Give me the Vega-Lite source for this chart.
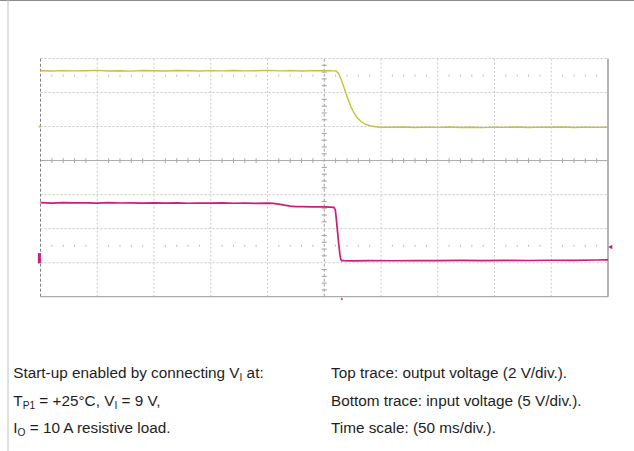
{
  "$schema": "https://vega.github.io/schema/vega-lite/v6.json",
  "width": 634,
  "height": 451,
  "padding": 0,
  "autosize": {"type": "none"},
  "background": "white",
  "config": {"view": {"stroke": null}},
  "datasets": {
    "vgrid": [{"x": 1}, {"x": 2}, {"x": 3}, {"x": 4}, {"x": 6}, {"x": 7}, {"x": 8}, {"x": 9}],
    "hgrid": [{"y": 1}, {"y": 2}, {"y": 3}, {"y": 5}, {"y": 6}, {"y": 7}],
    "xt": [{"x":0.2},{"x":0.4},{"x":0.6},{"x":0.8},{"x":1.2},{"x":1.4},{"x":1.6},{"x":1.8},{"x":2.2},{"x":2.4},{"x":2.6},{"x":2.8},{"x":3.2},{"x":3.4},{"x":3.6},{"x":3.8},{"x":4.2},{"x":4.4},{"x":4.6},{"x":4.8},{"x":5.2},{"x":5.4},{"x":5.6},{"x":5.8},{"x":6.2},{"x":6.4},{"x":6.6},{"x":6.8},{"x":7.2},{"x":7.4},{"x":7.6},{"x":7.8},{"x":8.2},{"x":8.4},{"x":8.6},{"x":8.8},{"x":9.2},{"x":9.4},{"x":9.6},{"x":9.8}],
    "yt": [{"y":0.2},{"y":0.4},{"y":0.6},{"y":0.8},{"y":1.2},{"y":1.4},{"y":1.6},{"y":1.8},{"y":2.2},{"y":2.4},{"y":2.6},{"y":2.8},{"y":3.2},{"y":3.4},{"y":3.6},{"y":3.8},{"y":4.2},{"y":4.4},{"y":4.6},{"y":4.8},{"y":5.2},{"y":5.4},{"y":5.6},{"y":5.8},{"y":6.2},{"y":6.4},{"y":6.6},{"y":6.8}],
    "yellow": [
      {"t":0,"v":6.640},{"t":0.2,"v":6.632},{"t":0.4,"v":6.645},{"t":0.6,"v":6.636},{"t":0.8,"v":6.642},{"t":1.0,"v":6.650},{"t":1.2,"v":6.634},{"t":1.4,"v":6.641},{"t":1.6,"v":6.630},{"t":1.8,"v":6.646},{"t":2.0,"v":6.638},{"t":2.2,"v":6.633},{"t":2.4,"v":6.647},{"t":2.6,"v":6.640},{"t":2.8,"v":6.631},{"t":3.0,"v":6.644},{"t":3.2,"v":6.637},{"t":3.4,"v":6.648},{"t":3.6,"v":6.635},{"t":3.8,"v":6.642},{"t":4.0,"v":6.652},{"t":4.2,"v":6.636},{"t":4.4,"v":6.643},{"t":4.6,"v":6.632},{"t":4.8,"v":6.645},{"t":5.0,"v":6.639},{"t":5.1,"v":6.641},{"t":5.17,"v":6.636},
      {"t":5.207,"v":6.632},{"t":5.251,"v":6.559},{"t":5.295,"v":6.397},{"t":5.339,"v":6.192},{"t":5.383,"v":5.971},{"t":5.427,"v":5.766},{"t":5.471,"v":5.574},{"t":5.524,"v":5.398},{"t":5.577,"v":5.266},{"t":5.648,"v":5.148},{"t":5.736,"v":5.060},{"t":5.841,"v":5.007},{"t":5.982,"v":4.981},
      {"t":6.2,"v":4.978},{"t":6.4,"v":4.985},{"t":6.6,"v":4.972},{"t":6.8,"v":4.983},{"t":7.0,"v":4.976},{"t":7.2,"v":4.988},{"t":7.4,"v":4.974},{"t":7.6,"v":4.981},{"t":7.8,"v":4.970},{"t":8.0,"v":4.984},{"t":8.2,"v":4.977},{"t":8.4,"v":4.986},{"t":8.6,"v":4.973},{"t":8.8,"v":4.982},{"t":9.0,"v":4.978},{"t":9.2,"v":4.987},{"t":9.4,"v":4.971},{"t":9.6,"v":4.983},{"t":9.8,"v":4.976},{"t":10.0,"v":4.981}
    ],
    "purple": [
      {"t":0,"v":2.762},{"t":0.2,"v":2.752},{"t":0.4,"v":2.765},{"t":0.6,"v":2.755},{"t":0.8,"v":2.760},{"t":1.0,"v":2.750},{"t":1.2,"v":2.762},{"t":1.4,"v":2.754},{"t":1.6,"v":2.758},{"t":1.8,"v":2.748},{"t":2.0,"v":2.757},{"t":2.2,"v":2.750},{"t":2.4,"v":2.756},{"t":2.6,"v":2.747},{"t":2.8,"v":2.754},{"t":3.0,"v":2.749},{"t":3.2,"v":2.755},{"t":3.4,"v":2.746},{"t":3.6,"v":2.752},{"t":3.8,"v":2.745},{"t":4.0,"v":2.748},{"t":4.1,"v":2.740},{"t":4.2,"v":2.722},{"t":4.3,"v":2.690},{"t":4.4,"v":2.662},{"t":4.5,"v":2.650},{"t":4.6,"v":2.648},{"t":4.8,"v":2.641},{"t":5.0,"v":2.638},{"t":5.1,"v":2.632},{"t":5.17,"v":2.628},
      {"t":5.195,"v":2.55},{"t":5.215,"v":2.25},{"t":5.235,"v":1.90},{"t":5.255,"v":1.55},{"t":5.275,"v":1.25},{"t":5.29,"v":1.10},{"t":5.305,"v":1.062},
      {"t":5.35,"v":1.058},{"t":5.5,"v":1.055},{"t":5.8,"v":1.060},{"t":6.2,"v":1.056},{"t":6.6,"v":1.062},{"t":7.0,"v":1.059},{"t":7.4,"v":1.066},{"t":7.8,"v":1.062},{"t":8.2,"v":1.068},{"t":8.6,"v":1.064},{"t":9.0,"v":1.072},{"t":9.4,"v":1.070},{"t":9.8,"v":1.078},{"t":10.0,"v":1.085}
    ],
    "caption": [
      {"x": -0.4793, "y": -2.401, "text": "Start-up enabled by connecting V"},
      {"x": 3.632, "y": -2.401, "text": "at:"},
      {"x": -0.4793, "y": -3.224, "text": "T"},
      {"x": -0.0199, "y": -3.224, "text": "= +25°C, V"},
      {"x": 1.427, "y": -3.224, "text": "= 9 V,"},
      {"x": -0.4793, "y": -4.017, "text": "I"},
      {"x": -0.1895, "y": -4.017, "text": "= 10 A resistive load."},
      {"x": 5.119, "y": -2.401, "text": "Top trace: output voltage (2 V/div.)."},
      {"x": 5.119, "y": -3.224, "text": "Bottom trace: input voltage (5 V/div.)."},
      {"x": 5.119, "y": -4.017, "text": "Time scale: (50 ms/div.)."}
    ],
    "subs": [
      {"x": 3.507, "y": -2.489, "text": "I"},
      {"x": -0.3145, "y": -3.312, "text": "P1"},
      {"x": 1.302, "y": -3.312, "text": "I"},
      {"x": -0.4044, "y": -4.105, "text": "O"}
    ]
  },
  "layer": [
    {
      "data": {"name": "vgrid"},
      "mark": {"type": "rule", "color": "#c8c8c8", "strokeDash": [2, 2], "strokeWidth": 1},
      "encoding": {
        "x": {"field": "x", "type": "quantitative", "scale": {"domain": [-0.7137, 10.458], "nice": false, "zero": false}, "axis": null},
        "y": {"datum": 0, "scale": {"domain": [-4.534, 8.719], "nice": false, "zero": false}, "axis": null},
        "y2": {"datum": 7}
      }
    },
    {
      "data": {"name": "hgrid"},
      "mark": {"type": "rule", "color": "#c8c8c8", "strokeDash": [2, 2], "strokeWidth": 1},
      "encoding": {
        "y": {"field": "y", "type": "quantitative", "axis": null},
        "x": {"datum": 0},
        "x2": {"datum": 10}
      }
    },
    {
      "data": {"name": "xt"},
      "mark": {"type": "rule", "color": "#c4c4c4", "strokeWidth": 1},
      "encoding": {
        "x": {"field": "x", "type": "quantitative"},
        "y": {"datum": 6.46},
        "y2": {"datum": 6.53}
      }
    },
    {
      "data": {"name": "xt"},
      "mark": {"type": "rule", "color": "#c4c4c4", "strokeWidth": 1},
      "encoding": {
        "x": {"field": "x", "type": "quantitative"},
        "y": {"datum": 1.46},
        "y2": {"datum": 1.53}
      }
    },
    {
      "data": {"values": [{}]},
      "mark": {"type": "rule", "color": "#a8a8a8", "strokeWidth": 1},
      "encoding": {"y": {"datum": 4}, "x": {"datum": 0}, "x2": {"datum": 10}}
    },
    {
      "data": {"values": [{}]},
      "mark": {"type": "rule", "color": "#a0a0a0", "strokeDash": [3, 2], "strokeWidth": 1},
      "encoding": {"x": {"datum": 5}, "y": {"datum": 0}, "y2": {"datum": 7}}
    },
    {
      "data": {"name": "xt"},
      "mark": {"type": "rule", "color": "#a8a8a8", "strokeWidth": 1},
      "encoding": {
        "x": {"field": "x", "type": "quantitative"},
        "y": {"datum": 3.93},
        "y2": {"datum": 4.07}
      }
    },
    {
      "data": {"name": "yt"},
      "mark": {"type": "rule", "color": "#a0a0a0", "strokeWidth": 1},
      "encoding": {
        "y": {"field": "y", "type": "quantitative"},
        "x": {"datum": 4.955},
        "x2": {"datum": 5.045}
      }
    },
    {
      "data": {"values": [{}]},
      "mark": {"type": "rule", "color": "#808080", "strokeDash": [3, 2], "strokeWidth": 1},
      "encoding": {"x": {"datum": 0}, "y": {"datum": 0}, "y2": {"datum": 7}}
    },
    {
      "data": {"values": [{}]},
      "mark": {"type": "rule", "color": "#b4b4b4", "strokeWidth": 2},
      "encoding": {"x": {"datum": 10}, "y": {"datum": 0}, "y2": {"datum": 7}}
    },
    {
      "data": {"values": [{}]},
      "mark": {"type": "rule", "color": "#9a9a9a", "strokeWidth": 1},
      "encoding": {"y": {"datum": 0}, "x": {"datum": 0}, "x2": {"datum": 10}}
    },
    {
      "data": {"name": "yellow"},
      "mark": {"type": "line", "color": "#c4c23a", "strokeWidth": 1.4, "interpolate": "linear"},
      "encoding": {
        "x": {"field": "t", "type": "quantitative"},
        "y": {"field": "v", "type": "quantitative"}
      }
    },
    {
      "data": {"name": "purple"},
      "mark": {"type": "line", "color": "#c81f7c", "strokeWidth": 1.7, "interpolate": "linear"},
      "encoding": {
        "x": {"field": "t", "type": "quantitative"},
        "y": {"field": "v", "type": "quantitative"}
      }
    },
    {
      "data": {"values": [{}]},
      "mark": {"type": "rule", "color": "#c81f7c", "strokeWidth": 3},
      "encoding": {"x": {"datum": -0.02}, "y": {"datum": 0.98}, "y2": {"datum": 1.28}}
    },
    {
      "data": {"values": [{}]},
      "mark": {"type": "rule", "color": "#c4c23a", "strokeWidth": 2},
      "encoding": {"y": {"datum": 5}, "x": {"datum": -0.03}, "x2": {"datum": 0.01}}
    },
    {
      "data": {"values": [{}]},
      "mark": {"type": "point", "shape": "triangle-left", "filled": true, "color": "#c81f7c", "size": 22, "opacity": 1},
      "encoding": {"x": {"datum": 10.04}, "y": {"datum": 1.46}}
    },
    {
      "data": {"values": [{}]},
      "mark": {"type": "point", "shape": "triangle-up", "filled": true, "color": "#d03a4a", "size": 8, "opacity": 1},
      "encoding": {"x": {"datum": 5.31}, "y": {"datum": -0.05}}
    },
    {
      "data": {"name": "caption"},
      "mark": {"type": "text", "align": "left", "baseline": "alphabetic", "font": "Liberation Sans", "fontSize": 15.3, "color": "#1e1e1e"},
      "encoding": {
        "x": {"field": "x", "type": "quantitative"},
        "y": {"field": "y", "type": "quantitative"},
        "text": {"field": "text"}
      }
    },
    {
      "data": {"name": "subs"},
      "mark": {"type": "text", "align": "left", "baseline": "alphabetic", "font": "Liberation Sans", "fontSize": 10.2, "color": "#1e1e1e"},
      "encoding": {
        "x": {"field": "x", "type": "quantitative"},
        "y": {"field": "y", "type": "quantitative"},
        "text": {"field": "text"}
      }
    },
    {
      "data": {"values": [{}]},
      "mark": {"type": "rule", "color": "#8c8c8c", "strokeWidth": 2},
      "encoding": {"y": {"datum": 8.716}, "x": {"datum": -0.7137}, "x2": {"datum": 10.458}}
    },
    {
      "data": {"values": [{}]},
      "mark": {"type": "rule", "color": "#c0c0c0", "strokeWidth": 1},
      "encoding": {"x": {"datum": -0.5727}, "y": {"datum": -4.534}, "y2": {"datum": 8.719}}
    }
  ]
}
